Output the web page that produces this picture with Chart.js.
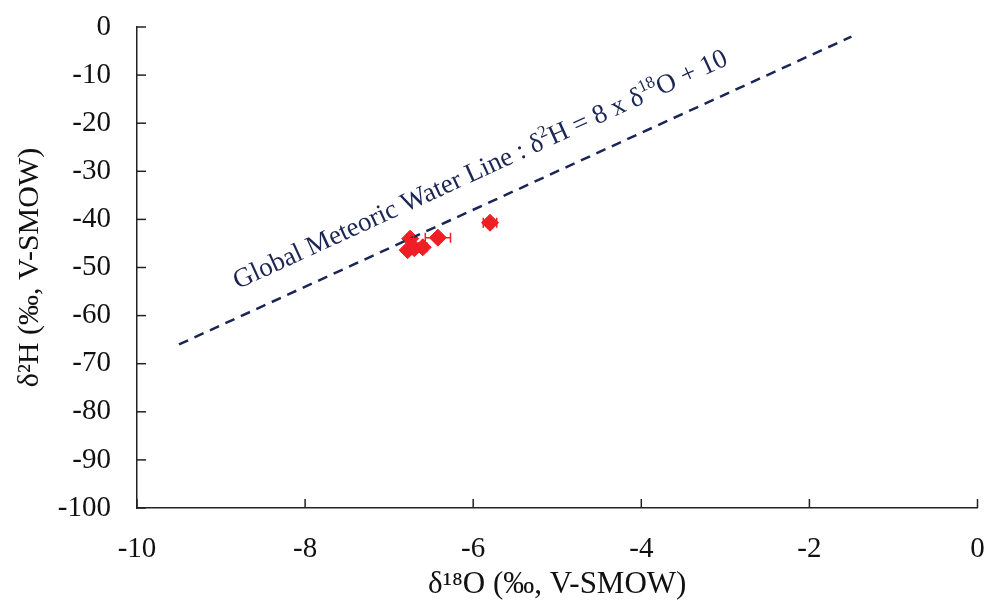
<!DOCTYPE html>
<html>
<head>
<meta charset="utf-8">
<script src="https://cdn.jsdelivr.net/npm/chart.js@4"></script>
<style>
  html, body { margin: 0; padding: 0; background: #fff; }
  #wrap { width: 987px; height: 606px; }
</style>
</head>
<body>
<div id="wrap"><canvas id="isoChart" width="987" height="606"></canvas></div>
<script>
// sample values
const d18O = [-6.75, -6.78, -6.70, -6.60, -6.42, -5.80];
const d2H = [-44.0, -46.4, -46.0, -45.8, -43.8, -40.7];
const d18OErr = [0.04, 0.04, 0.04, 0.05, 0.15, 0.08];

// global meteoric water line end points (d2H = 8 * d18O + 10)
const gmwlX = [-9.5, -1.5];
const gmwlY = gmwlX.map(x => 8 * x + 10);

const xTicks = [-10, -8, -6, -4, -2, 0];
const yTicks = [0, -10, -20, -30, -40, -50, -60, -70, -80, -90, -100];

const serif = "'Liberation Serif', 'DejaVu Serif', serif";
const red = '#ee1f25';
const navy = '#1c2656';
const axisColor = '#222222';

// drop the extra room chart.js keeps for overhanging tick labels
function noPad(s) {
  s.paddingTop = 0; s.paddingBottom = 0;
  s.paddingLeft = 0; s.paddingRight = 0;
}

// horizontal error bars + inside tick marks + line label
const extras = {
  id: 'extras',
  afterDatasetsDraw(chart) {
    const ctx = chart.ctx;
    const xs = chart.scales.x, ys = chart.scales.y;
    ctx.save();
    ctx.strokeStyle = red;
    ctx.lineWidth = 1.5;
    d18O.forEach((v, i) => {
      const y = ys.getPixelForValue(d2H[i]);
      const x0 = xs.getPixelForValue(v - d18OErr[i]);
      const x1 = xs.getPixelForValue(v + d18OErr[i]);
      ctx.beginPath();
      ctx.moveTo(x0, y); ctx.lineTo(x1, y);
      ctx.moveTo(x0, y - 5); ctx.lineTo(x0, y + 5);
      ctx.moveTo(x1, y - 5); ctx.lineTo(x1, y + 5);
      ctx.stroke();
    });
    ctx.restore();

    // line label, rotated along the GMWL
    const p0x = xs.getPixelForValue(gmwlX[0]), p0y = ys.getPixelForValue(gmwlY[0]);
    const p1x = xs.getPixelForValue(gmwlX[1]), p1y = ys.getPixelForValue(gmwlY[1]);
    const ang = Math.atan2(p1y - p0y, p1x - p0x);
    const ax = xs.getPixelForValue(-8.8), ay = ys.getPixelForValue(-54.5);
    const parts = [
      ['Global Meteoric Water Line : \u03b4', false],
      ['2', true],
      ['H = 8 x \u03b4', false],
      ['18', true],
      ['O + 10', false]
    ];
    ctx.save();
    ctx.translate(ax, ay);
    ctx.rotate(ang);
    ctx.fillStyle = navy;
    ctx.textBaseline = 'alphabetic';
    ctx.textAlign = 'left';
    let cx = 0;
    parts.forEach(([t, sup]) => {
      ctx.font = (sup ? '17px ' : '27px ') + serif;
      ctx.fillText(t, cx, sup ? -11 : 0);
      cx += ctx.measureText(t).width;
    });
    ctx.restore();
  },
  afterDraw(chart) {
    const ctx = chart.ctx;
    const xs = chart.scales.x, ys = chart.scales.y;
    const a = chart.chartArea;
    ctx.save();
    ctx.strokeStyle = axisColor;
    ctx.lineWidth = 1.5;
    xTicks.forEach(t => {
      const x = xs.getPixelForValue(t);
      ctx.beginPath(); ctx.moveTo(x, a.bottom); ctx.lineTo(x, a.bottom - 9); ctx.stroke();
    });
    yTicks.forEach(t => {
      const y = ys.getPixelForValue(t);
      ctx.beginPath(); ctx.moveTo(a.left, y); ctx.lineTo(a.left + 9, y); ctx.stroke();
    });
    ctx.restore();
  }
};

const chart = new Chart(document.getElementById('isoChart').getContext('2d'), {
  type: 'scatter',
  data: {
    datasets: [
      {
        label: 'GMWL',
        data: gmwlX.map((x, i) => ({ x: x, y: gmwlY[i] })),
        showLine: true,
        borderColor: navy,
        borderWidth: 2.5,
        borderDash: [10, 7],
        pointRadius: 0,
        fill: false
      },
      {
        label: 'Samples',
        data: d18O.map((x, i) => ({ x: x, y: d2H[i] })),
        pointStyle: 'rectRot',
        pointRadius: 8.5,
        backgroundColor: red,
        borderColor: red,
        borderWidth: 1
      }
    ]
  },
  options: {
    responsive: false,
    animation: false,
    layout: { padding: { top: 27, right: 9, left: 0, bottom: 0 } },
    plugins: {
      legend: { display: false },
      tooltip: { enabled: false }
    },
    scales: {
      x: {
        type: 'linear',
        min: -10,
        max: 0,
        afterBuildTicks: s => { s.ticks = xTicks.map(v => ({ value: v })); },
        grid: { display: false, drawTicks: false },
        border: { display: true, color: axisColor, width: 1.5 },
        ticks: {
          padding: 24,
          maxRotation: 0,
          color: '#111',
          font: { family: serif, size: 29 }
        },
        title: {
          display: true,
          text: '\u03b4\u00b9\u2078O (\u2030, V-SMOW)',
          color: '#111',
          font: { family: serif, size: 31 },
          padding: { top: 4, bottom: 3 }
        },
        afterFit: s => { s.height = 98; noPad(s); }
      },
      y: {
        type: 'linear',
        min: -100,
        max: 0,
        afterBuildTicks: s => { s.ticks = yTicks.map(v => ({ value: v })); },
        grid: { display: false, drawTicks: false },
        border: { display: true, color: axisColor, width: 1.5 },
        ticks: {
          padding: 26,
          color: '#111',
          font: { family: serif, size: 29 }
        },
        title: {
          display: true,
          text: '\u03b4\u00b2H (\u2030, V-SMOW)',
          color: '#111',
          font: { family: serif, size: 30 },
          padding: { top: 12, bottom: 0 }
        },
        afterFit: s => { s.width = 137; noPad(s); }
      }
    }
  },
  plugins: [extras]
});
</script>
</body>
</html>
